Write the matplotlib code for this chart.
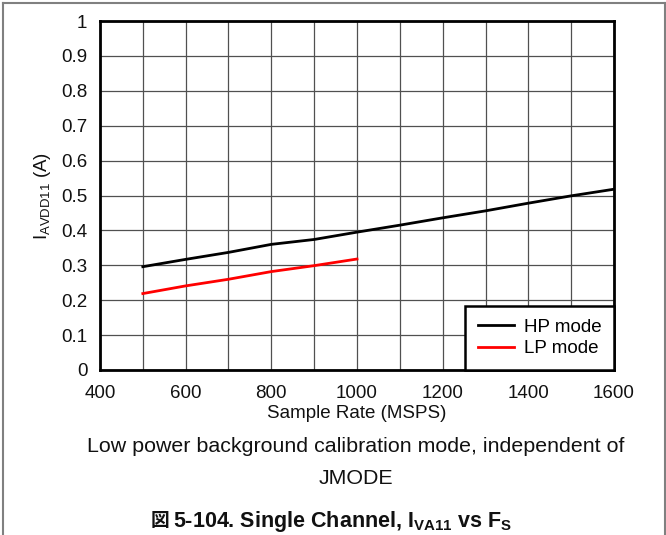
import matplotlib
matplotlib.use("Agg")
import matplotlib.pyplot as plt
from matplotlib.lines import Line2D

plt.rcParams['font.family'] = ['Liberation Sans', 'Noto Sans CJK JP', 'DejaVu Sans']
plt.rcParams['mathtext.fontset'] = 'custom'
plt.rcParams['mathtext.rm'] = 'Liberation Sans'
plt.rcParams['mathtext.bf'] = 'Liberation Sans:bold'
plt.rcParams['mathtext.it'] = 'Liberation Sans:italic'

hp_rate = [500, 600, 700, 800, 900, 1000, 1100, 1200, 1300, 1400, 1500, 1600]
hp_current = [0.296, 0.317, 0.337, 0.360, 0.374, 0.395, 0.415, 0.436, 0.456, 0.478, 0.499, 0.518]
lp_rate = [500, 600, 700, 800, 900, 1000]
lp_current = [0.219, 0.241, 0.260, 0.282, 0.299, 0.318]

x_ticks = [400, 600, 800, 1000, 1200, 1400, 1600]
y_ticks = [0, 0.1, 0.2, 0.3, 0.4, 0.5, 0.6, 0.7, 0.8, 0.9, 1]
y_ticklabels = ['0', '0.1', '0.2', '0.3', '0.4', '0.5', '0.6', '0.7', '0.8', '0.9', '1']

W, H = 666, 535
fig = plt.figure(figsize=(W / 100, H / 100), dpi=100)
ax = fig.add_axes([100 / W, 1 - 370 / H, 514 / W, 349 / H])

ax.plot(hp_rate, hp_current, color='black', lw=2, label='HP mode', zorder=3)
ax.plot(lp_rate, lp_current, color='#ff0000', lw=2, label='LP mode', zorder=3)

ax.set_xlim(400, 1600)
ax.set_ylim(0, 1)
ax.set_xticks(x_ticks)
ax.set_xticks(range(400, 1601, 100), minor=True)
ax.set_yticks(y_ticks)
ax.set_yticklabels(y_ticklabels)
ax.tick_params(which='both', length=0, labelsize=13.5, colors='#111111')
ax.tick_params(axis='x', pad=11)
ax.tick_params(axis='y', pad=9)
ax.grid(True, which='both', color='#505050', lw=0.9)
for s in ax.spines.values():
    s.set_linewidth(2)
    s.set_color('black')

ax.set_xlabel('Sample Rate (MSPS)', fontsize=13.5, labelpad=2, color='#111111')
ax.set_ylabel(r'I$_{\mathregular{AVDD11}}$ (A)', fontsize=13.5, labelpad=6, color='#111111')

leg = ax.legend(loc='lower right', borderaxespad=0, fancybox=False, edgecolor='black',
                fontsize=13.5, handlelength=1.95, handletextpad=0.5, labelspacing=0.22,
                borderpad=0.68, framealpha=1)
leg.get_frame().set_linewidth(1.8)

fig.text(356 / W, 1 - 447 / H, 'Low power background calibration mode, independent of',
         ha='center', va='center', fontsize=15.4, color='#111111')
fig.text(356 / W, 1 - 478 / H, 'JMODE', ha='center', va='center', fontsize=15.4, color='#111111')

# caption: CJK glyph set separately (mathtext does not fall back to CJK fonts)
cap = fig.text(173 / W, 1 - 521 / H, r'5-104. Single Channel, I$_{\mathbf{VA11}}$ vs F$_{\mathbf{S}}$',
               ha='left', va='center', fontsize=15.5, fontweight='bold', color='#111111')
fig.text(160 / W, 1 - 520 / H, '図', ha='center', va='center', fontsize=13.5,
         fontweight='bold', family=['Noto Sans CJK JP'], color='#111111')

# outer frame
fc = '#808080'
fig.add_artist(Line2D([3 / W, 3 / W], [1 - 3 / H, -0.05], transform=fig.transFigure, color=fc, lw=1.5))
fig.add_artist(Line2D([664.5 / W, 664.5 / W], [1 - 3 / H, -0.05], transform=fig.transFigure, color=fc, lw=1.5))
fig.add_artist(Line2D([3 / W, 664.5 / W], [1 - 3 / H, 1 - 3 / H], transform=fig.transFigure, color=fc, lw=1.5))

fig.savefig('out.png', dpi=100)
